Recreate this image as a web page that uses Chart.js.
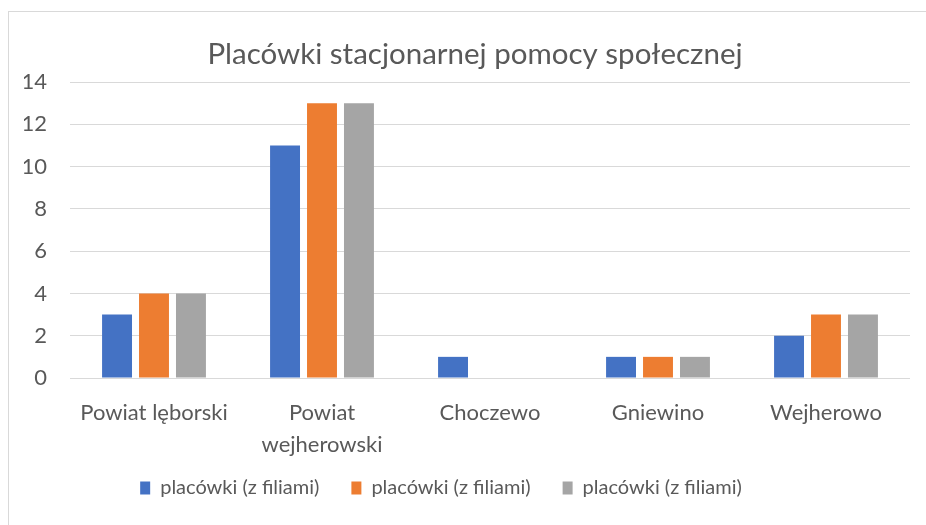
<!DOCTYPE html>
<html>
<head>
<meta charset="utf-8">
<script src="https://cdn.jsdelivr.net/npm/chart.js@4/dist/chart.umd.min.js"></script>
<style>
  body { margin: 0; background: #fff; }
  #frame { position: absolute; left: 8px; top: 11px; width: 940px; height: 540px; border: 1px solid #d9d9d9; }
  #wrap { position: absolute; left: 0; top: 0; width: 926px; height: 525px; }
</style>
</head>
<body>
<div id="frame"></div>
<div id="wrap"><canvas id="chart" width="926" height="525"></canvas></div>
<script>
// dane
const categories = ["Powiat lęborski", ["Powiat", "wejherowski"], "Choczewo", "Gniewino", "Wejherowo"];
const seriesNames = ["placówki (z filiami)", "placówki (z filiami)", "placówki (z filiami)"];
const series1 = [3, 11, 1, 1, 2];
const series2 = [4, 13, 0, 1, 3];
const series3 = [4, 13, 0, 1, 3];
const yTicks = [0, 2, 4, 6, 8, 10, 12, 14];

const colors = ["#4472C4", "#ED7D31", "#A5A5A5"];
const textColor = "#595959";
const fontFamily = "Lato, 'Open Sans', sans-serif";

// przesuwa legendę w miejsce jak w oryginale
const legendShift = {
    id: "legendShift",
    afterLayout: function (chart) {
        const lg = chart.legend;
        const dy = 446 - lg.top;
        lg.top += dy;
        lg.bottom += dy;
        lg.left -= 26;
        lg.right -= 26;
        const t = chart.titleBlock;
        if (t) { t.left += 8; t.right += 8; }
    }
};

document.addEventListener("DOMContentLoaded", function () {
    new Chart(document.getElementById("chart"), {
        type: "bar",
        data: {
            labels: categories,
            datasets: [series1, series2, series3].map(function (d, i) {
                return {
                    label: seriesNames[i],
                    data: d,
                    backgroundColor: colors[i],
                    barPercentage: 0.81,
                    categoryPercentage: 0.66
                };
            })
        },
        options: {
            responsive: false,
            animation: false,
            layout: { padding: { left: 24, right: 16, top: 0, bottom: 0 } },
            plugins: {
                title: {
                    display: true,
                    text: "Placówki stacjonarnej pomocy społecznej",
                    color: textColor,
                    font: { family: fontFamily, size: 29.5, weight: "normal", lineHeight: 1.2 },
                    padding: { top: 37, bottom: 9.6 }
                },
                legend: {
                    position: "bottom",
                    labels: {
                        color: textColor,
                        font: { family: fontFamily, size: 20 },
                        boxWidth: 10,
                        boxHeight: 13,
                        padding: 32
                    }
                },
                tooltip: { enabled: false }
            },
            scales: {
                x: {
                    grid: { display: false },
                    border: { display: false },
                    afterFit: function (scale) { scale.height = 85; },
                    ticks: {
                        color: textColor,
                        font: { family: fontFamily, size: 22, lineHeight: 1.45 },
                        maxRotation: 0,
                        autoSkip: false,
                        padding: 11
                    }
                },
                y: {
                    min: yTicks[0],
                    max: yTicks[yTicks.length - 1],
                    afterBuildTicks: function (scale) {
                        scale.ticks = yTicks.map(function (v) { return { value: v }; });
                    },
                    afterFit: function (scale) { scale.width = 46; },
                    grid: { color: "#d9d9d9", drawTicks: false },
                    border: { display: false },
                    ticks: {
                        color: textColor,
                        font: { family: fontFamily, size: 22 },
                        padding: 23
                    }
                }
            }
        },
        plugins: [legendShift]
    });
});
</script>
</body>
</html>
